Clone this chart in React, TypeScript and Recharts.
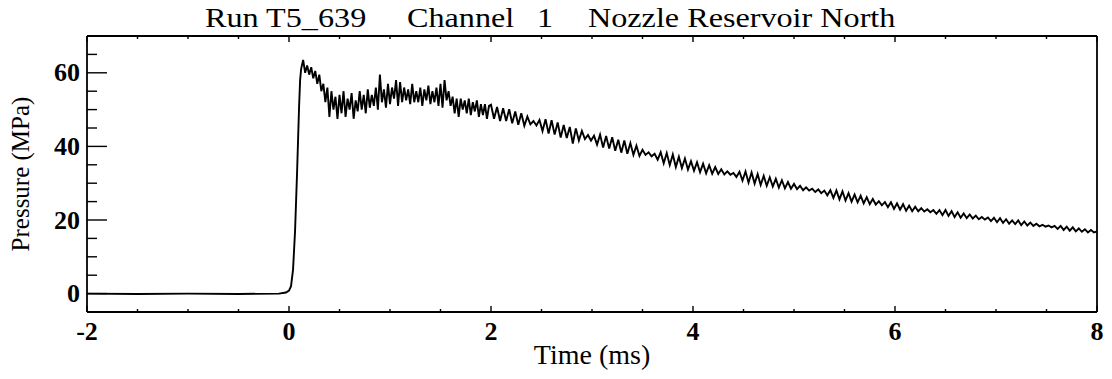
import { LineChart, Line, XAxis, YAxis } from "recharts";

// Trace before and through the shock arrival (irregular spacing, ms / MPa)
const RISE_T = [-2, -1.5, -1, -0.5, -0.1, -0.03, 0, 0.02, 0.04, 0.06, 0.08, 0.09, 0.1, 0.11];
const RISE_P = [0, -0.1, 0, -0.1, 0, 0.3, 0.8, 2, 6.5, 17, 33, 42, 51, 58];

// Noisy plateau, sampled every 0.02 ms starting at 0.12 ms
const PLATEAU_START = 0.12;
const PLATEAU_STEP = 0.02;
const PLATEAU_P = [
  61, 63.5, 60, 62, 59.5, 61.5, 58.5, 60.5, 57, 59.5,
  55, 57, 52, 56, 48, 55, 50, 53.5, 47.5, 54,
  49, 55, 48, 53, 50, 54.5, 47.5, 52.5, 49.5, 55,
  50, 54, 49, 55.5, 50.5, 54, 51, 56, 50, 59.5,
  52, 55.5, 50.5, 57, 51.5, 56, 53, 58, 51, 57.5,
  52, 56, 52.5, 55.5, 51.5, 57, 52, 55, 52, 56,
  51, 55.5, 52.5, 56.5, 51.5, 55, 52, 56, 51, 57,
  50.5, 58, 52.5, 55, 51, 53.5, 49, 53, 48, 53,
  50, 52.5, 49, 53, 48.5, 52, 49.5, 52.5, 48, 51.5,
  48.5, 51.5, 47.5, 51,
];

// Decay with ringing, sampled every 0.03 ms from 2 ms to 8 ms
const DECAY_START = 2;
const DECAY_STEP = 0.03;
const DECAY_P = [
  51.3, 47.5, 50.7, 46.9, 50.4, 46.9, 50.1, 46.3, 49.5, 45.9,
  49.0, 45.6, 48.1, 46.0, 46.9, 45.7, 47.2, 44.2, 47.4, 43.5,
  47.1, 43.2, 46.5, 42.4, 45.8, 42.3, 45.3, 40.8, 44.9, 41.6,
  44.2, 42.0, 43.1, 41.6, 42.9, 40.5, 43.2, 39.7, 42.8, 39.4,
  42.5, 38.8, 41.8, 38.3, 41.6, 38.0, 40.9, 37.7, 40.2, 37.4,
  39.1, 37.7, 38.4, 37.3, 38.0, 36.4, 38.4, 35.4, 38.2, 34.9,
  37.8, 34.4, 37.2, 34.1, 36.7, 33.7, 36.0, 33.4, 35.7, 33.0,
  35.3, 32.7, 34.9, 32.6, 34.4, 32.5, 33.8, 32.4, 33.2, 32.3,
  32.8, 31.7, 33.1, 30.7, 33.2, 30.2, 32.9, 29.9, 32.5, 29.5,
  32.0, 29.3, 31.6, 29.1, 31.2, 28.8, 30.8, 28.6, 30.3, 28.5,
  29.8, 28.4, 29.3, 28.1, 28.9, 28.0, 28.5, 27.6, 28.3, 27.3,
  28.0, 26.7, 28.1, 26.0, 28.0, 25.6, 27.8, 25.3, 27.3, 25.0,
  26.9, 24.8, 26.6, 24.5, 26.2, 24.3, 25.7, 24.2, 25.1, 24.0,
  24.9, 23.5, 24.8, 23.0, 24.5, 22.8, 24.3, 22.5, 23.9, 22.4,
  23.6, 22.4, 23.2, 22.3, 22.9, 22.1, 22.7, 21.7, 22.7, 21.3,
  22.7, 21.1, 22.4, 20.8, 22.1, 20.6, 21.8, 20.5, 21.5, 20.4,
  21.2, 20.2, 20.8, 20.1, 20.7, 19.7, 20.6, 19.4, 20.5, 19.2,
  20.2, 19.0, 19.9, 18.9, 19.9, 18.6, 19.6, 18.5, 19.3, 18.4,
  19.0, 18.3, 18.7, 18.2, 18.5, 18.0, 18.4, 17.6, 18.4, 17.3,
  18.2, 17.1, 18.0, 16.9, 17.7, 16.8, 17.5, 16.6, 17.3, 16.6,
  16.9,
];

const X_TICKS = [-2, -1.5, -1, -0.5, 0, 0.5, 1, 1.5, 2, 2.5, 3, 3.5, 4, 4.5, 5, 5.5, 6, 6.5, 7, 7.5, 8];
const X_LABELED = [-2, 0, 2, 4, 6, 8];
const Y_TICKS = [-5, 0, 5, 10, 15, 20, 25, 30, 35, 40, 45, 50, 55, 60, 65, 70];
const Y_LABELED = [0, 20, 40, 60];

// title pieces and where each one starts (page px)
const TITLE_PARTS = ["Run T5_639", "Channel", "1", "Nozzle Reservoir North"];
const TITLE_X = [205, 407, 537, 588];
const TITLE_STRETCH = 1.15;

const round3 = (v: number) => Math.round(v * 1000) / 1000;

const data = [
  ...RISE_T.map((t, i) => ({ t, p: RISE_P[i] })),
  ...PLATEAU_P.map((p, i) => ({ t: round3(PLATEAU_START + i * PLATEAU_STEP), p })),
  ...DECAY_P.map((p, i) => ({ t: round3(DECAY_START + i * DECAY_STEP), p })),
];

const FONT = "'Liberation Serif', 'Times New Roman', serif";
const INK = "#000";

type TickProps = { x: number; y: number; payload: { value: number } };

function BottomTick({ x, y, payload }: TickProps) {
  const major = X_LABELED.includes(payload.value);
  return (
    <g>
      <line x1={x} y1={y} x2={x} y2={y - (major ? 6 : 3)} stroke={INK} strokeWidth={1.4} />
      {major && (
        <text x={x} y={y + 28} textAnchor="middle" fontFamily={FONT} fontSize={26} fontWeight="bold" fill={INK}>
          {String(payload.value)}
        </text>
      )}
    </g>
  );
}

function TopTick({ x, y, payload }: TickProps) {
  const major = X_LABELED.includes(payload.value);
  return <line x1={x} y1={y} x2={x} y2={y + (major ? 6 : 3)} stroke={INK} strokeWidth={1.4} />;
}

function LeftTick({ x, y, payload }: TickProps) {
  const major = Y_LABELED.includes(payload.value);
  return (
    <g>
      <line x1={x} y1={y} x2={x + (major ? 20 : 10)} y2={y} stroke={INK} strokeWidth={1.4} />
      {major && (
        <text x={x - 7} y={y + 8.5} textAnchor="end" fontFamily={FONT} fontSize={26} fontWeight="bold" fill={INK}>
          {String(payload.value)}
        </text>
      )}
    </g>
  );
}

function RightTick({ x, y, payload }: TickProps) {
  const major = Y_LABELED.includes(payload.value);
  return <line x1={x} y1={y} x2={x - (major ? 20 : 10)} y2={y} stroke={INK} strokeWidth={1.4} />;
}

export default function App() {
  return (
    <div style={{ position: "absolute", left: 0, top: 0, width: 1112, height: 379, background: "#fff" }}>
      <LineChart
        width={1112}
        height={379}
        data={data}
        margin={{ top: 35, right: 14, bottom: 7, left: 7 }}
      >
        <XAxis
          xAxisId="t"
          dataKey="t"
          type="number"
          domain={[-2, 8]}
          ticks={X_TICKS}
          interval={0}
          height={60}
          tickSize={0}
          tickMargin={0}
          tickLine={false}
          axisLine={{ stroke: INK, strokeWidth: 1.8 }}
          tick={BottomTick}
          allowDataOverflow
          label={{
            content: ({ viewBox }: any) => (
              <text
                x={viewBox.x + viewBox.width / 2}
                y={viewBox.y + 52}
                textAnchor="middle"
                fontFamily={FONT}
                fontSize={28}
                fill={INK}
              >
                Time (ms)
              </text>
            ),
          }}
        />
        <XAxis
          xAxisId="tt"
          orientation="top"
          type="number"
          dataKey="t"
          domain={[-2, 8]}
          ticks={X_TICKS}
          interval={0}
          height={1}
          tickSize={0}
          tickMargin={0}
          tickLine={false}
          axisLine={{ stroke: INK, strokeWidth: 1.8 }}
          tick={TopTick}
        />
        <YAxis
          yAxisId="p"
          type="number"
          domain={[-5, 70]}
          ticks={Y_TICKS}
          interval={0}
          width={80}
          tickSize={0}
          tickMargin={0}
          tickLine={false}
          axisLine={{ stroke: INK, strokeWidth: 1.8 }}
          tick={LeftTick}
          allowDataOverflow
          label={{
            content: ({ viewBox }: any) => {
              const cx = 20;
              const cy = viewBox.y + viewBox.height / 2;
              return (
                <text
                  x={cx}
                  y={cy}
                  transform={`rotate(-90 ${cx} ${cy})`}
                  textAnchor="middle"
                  dominantBaseline="central"
                  fontFamily={FONT}
                  fontSize={25}
                  fill={INK}
                >
                  Pressure (MPa)
                </text>
              );
            },
          }}
        />
        <YAxis
          yAxisId="pr"
          orientation="right"
          type="number"
          domain={[-5, 70]}
          ticks={Y_TICKS}
          interval={0}
          width={1}
          tickSize={0}
          tickMargin={0}
          tickLine={false}
          axisLine={{ stroke: INK, strokeWidth: 1.8 }}
          tick={RightTick}
        />
        <Line
          xAxisId="t"
          yAxisId="p"
          type="linear"
          dataKey="p"
          stroke={INK}
          strokeWidth={1.9}
          dot={false}
          isAnimationActive={false}
        />
      </LineChart>
      <svg
        width={1112}
        height={40}
        style={{ position: "absolute", left: 0, top: 0, pointerEvents: "none" }}
      >
        <text
          y={27}
          transform={`scale(${TITLE_STRETCH} 1)`}
          fontFamily={FONT}
          fontSize={28}
          fill={INK}
        >
          {TITLE_PARTS.map((part, i) => (
            <tspan key={part} x={TITLE_X[i] / TITLE_STRETCH}>
              {part}
            </tspan>
          ))}
        </text>
      </svg>
    </div>
  );
}
